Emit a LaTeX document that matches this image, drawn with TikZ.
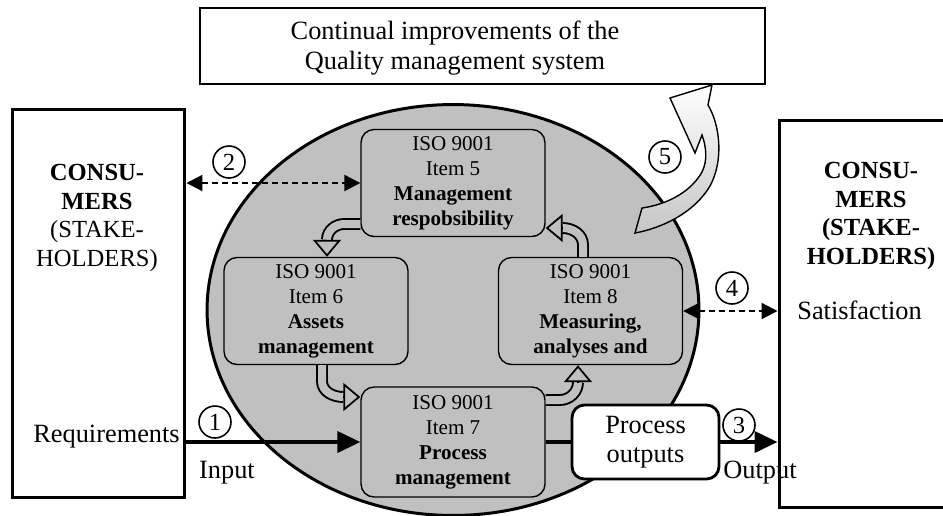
\documentclass[tikz,border=0pt]{standalone}
\usepackage{fontspec}
\setmainfont{Liberation Serif}
\usepackage{tikz}
\usetikzlibrary{arrows.meta,shapes.geometric,positioning}
\definecolor{cellgray}{RGB}{192,192,192}
\tikzset{
	item/.style={draw, line width=0.8pt, rounded corners=0.26cm, fill=cellgray, minimum width=3.68cm, minimum height=2.14cm, align=center, font=\fontsize{12}{14.2}\selectfont},
	party/.style={draw, line width=1.7pt, fill=white, minimum width=3.46cm, minimum height=7.78cm},
	lbl/.style={font=\fontsize{15}{16.5}\selectfont, inner sep=0pt},
	num/.style={draw, circle, line width=0.9pt, minimum size=0.64cm, inner sep=0pt, font=\fontsize{14}{14}\selectfont},
	flow/.style={line width=2.2pt, -{Triangle[length=0.46cm, width=0.42cm]}},
	dashflow/.style={line width=1.2pt, dash pattern=on 3.4pt off 2.3pt, {Triangle[length=0.32cm, width=0.32cm]}-{Triangle[length=0.32cm, width=0.32cm]}},
	hollow/.style={draw=black, line width=1.1pt, double=cellgray, double distance=0.16cm},
	hollowhead/.style={line width=1pt, -{Triangle[length=0.34cm, width=0.56cm, fill=cellgray]}}
}
\begin{document}
\begin{tikzpicture}[x=0.02cm, y=-0.02cm]
	\clip (0,0) rectangle (943,515);
	\fill[white] (0,0) rectangle (943,515);

	\node[draw, ellipse, line width=1.7pt, fill=cellgray, minimum width=9.84cm, minimum height=8.22cm, inner sep=0pt] (sys) at (453,310) {};

	\node[draw, line width=0.9pt, fill=white, minimum width=11.3cm, minimum height=1.52cm] (imp) at (482.5,46) {};
	\node[font=\fontsize{15}{17}\selectfont, align=center] (impt) at (455,48) {Continual improvements of the\\Quality management system};

	\node[party] (cl) at (98.5,303.5) {};
	\node[font=\fontsize{14}{16.2}\selectfont, align=center] (clt) at (97,218) {\textbf{CONSU-}\\\textbf{MERS}\\(STAKE-\\HOLDERS)};
	\node[lbl, anchor=west] (req) at (33,437) {Requirements};

	\node[party, minimum width=3.36cm, minimum height=7.76cm] (cr) at (863,314) {};
	\node[font=\fontsize{14}{16.2}\selectfont\bfseries, align=center] (crt) at (871,216) {CONSU-\\MERS\\(STAKE-\\HOLDERS)};
	\node[lbl, anchor=west] (sat) at (797,310) {Satisfaction};

	\node[item] (b5) at (453,183) {ISO 9001\\Item 5\\\textbf{Management}\\\textbf{respobsibility}};
	\node[item] (b6) at (316,311) {ISO 9001\\Item 6\\\textbf{Assets}\\\textbf{management}};
	\node[item] (b8) at (590.5,311) {ISO 9001\\Item 8\\\textbf{Measuring,}\\\textbf{analyses and}};
	\node[item, minimum height=2.2cm] (b7) at (453,442) {ISO 9001\\Item 7\\\textbf{Process}\\\textbf{management}};

	\node[draw, line width=1.6pt, rounded corners=0.25cm, fill=white, minimum width=2.94cm, minimum height=1.48cm, align=center, font=\fontsize{15}{16.5}\selectfont] (po) at (645.5,442) {Process\\outputs};

	\draw[flow] (cl.east |- b7.west) -- (b7.west);
	\draw[line width=2.2pt] (b7.east) -- (po.west);
	\draw[flow] (po.east) -- (po.east -| cr.west);
	\draw[dashflow] (cl.east |- b5.west) -- (b5.west);
	\draw[dashflow] (b8.east) -- (b8.east -| cr.west);

	\draw[hollow] ([shift={(0,41)}]b5.west) -- ++(-16,0) to[out=180,in=90] ([shift={(11,-17)}]b6.north) coordinate (h1);
	\draw[hollowhead] (h1) -- (h1 |- b6.north);
	\draw[hollow] ([shift={(6,0)}]b6.south) -- ++(0,16) to[out=-90,in=180] ([shift={(-17,-45)}]b7.west) coordinate (h2);
	\draw[hollowhead] (h2) -- (h2 -| b7.west);
	\draw[hollow] ([shift={(0,-42)}]b7.east) -- ++(14,0) to[out=0,in=-90] ([shift={(-12.5,17)}]b8.south) coordinate (h3);
	\draw[hollowhead] (h3) -- (h3 |- b8.south);
	\draw[hollow] ([shift={(-7.5,0)}]b8.north) -- ++(0,-12) to[out=90,in=0] ([shift={(17,45)}]b5.east) coordinate (h4);
	\draw[hollowhead] (h4) -- (h4 -| b5.east);

	\draw[line width=0.8pt, top color=white, bottom color=gray!45] (635,233) -- (642,208)
		.. controls (670,204) and (692,190) .. (702,172)
		.. controls (708,160) and (706,146) .. (702,135)
		-- (695,153) -- (670,98) -- (712,85) -- (708,105)
		.. controls (720,125) and (724,160) .. (710,186)
		.. controls (694,213) and (662,228) .. (635,233) -- cycle;

	\node[num] (n1) at (215,422) {1};
	\node[num] (n2) at (229,162) {2};
	\node[num] (n3) at (739,425) {3};
	\node[num] (n4) at (732,288) {4};
	\node[num] (n5) at (665,157) {5};

	\node[lbl] (inp) at (227,473) {Input};
	\node[lbl] (outp) at (760,473) {Output};
\end{tikzpicture}
\end{document}
